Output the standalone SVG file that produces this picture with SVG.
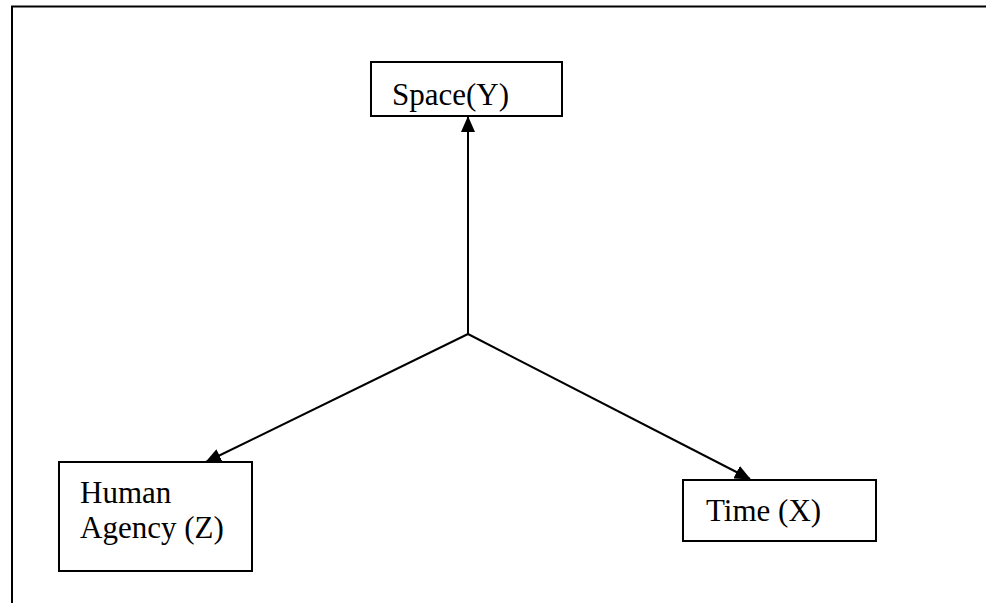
<svg xmlns="http://www.w3.org/2000/svg" width="986" height="603" viewBox="0 0 986 603">
<defs>
<style>
.box{fill:#fff;stroke:#000;stroke-width:2}
.lbl{font-family:"Liberation Serif","Times New Roman",serif;font-size:31px;fill:#000}
.conn{stroke:#000;stroke-width:2;fill:none}
</style>
<marker id="ah" markerWidth="16" markerHeight="14" refX="15" refY="7" orient="auto" markerUnits="userSpaceOnUse">
<path d="M0,0 L16,7 L0,14 Z" fill="#000"/>
</marker>
</defs>
<rect width="986" height="603" fill="#fff"/>
<path d="M12,603 V6.5 H986" stroke="#000" stroke-width="2" fill="none"/>
<g id="connectors">
<line class="conn" x1="468" y1="334" x2="468" y2="117" marker-end="url(#ah)"/>
<line class="conn" x1="468" y1="334" x2="206" y2="462" marker-end="url(#ah)"/>
<line class="conn" x1="468" y1="334" x2="750" y2="479" marker-end="url(#ah)"/>
</g>
<g id="space">
<rect class="box" x="371" y="62" width="191" height="54"/>
<text class="lbl" x="392" y="105">Space(Y)</text>
</g>
<g id="human">
<rect class="box" x="59" y="462" width="193" height="109"/>
<text class="lbl" x="80" y="503">Human</text>
<text class="lbl" x="80" y="538">Agency (Z)</text>
</g>
<g id="time">
<rect class="box" x="683" y="480" width="193" height="61"/>
<text class="lbl" x="706" y="521">Time (X)</text>
</g>
</svg>
